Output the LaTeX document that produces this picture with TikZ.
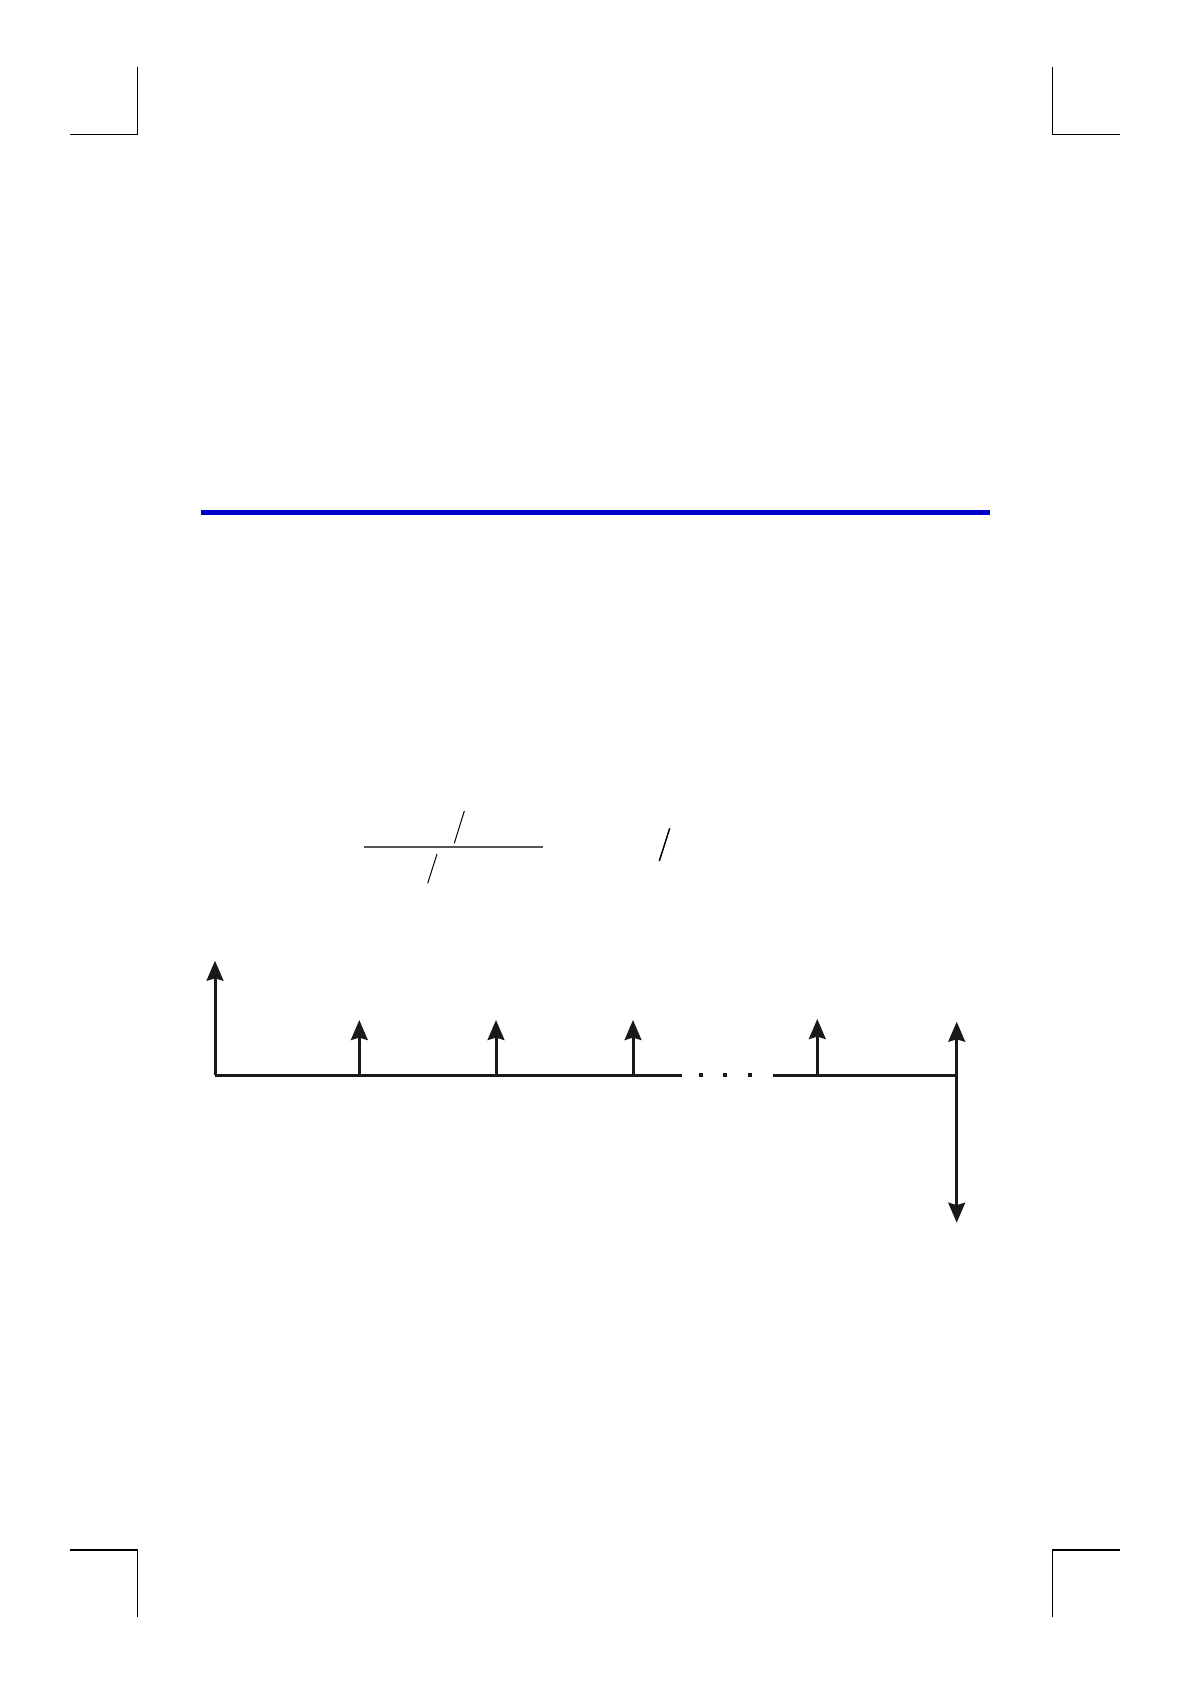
\documentclass[tikz,border=0pt]{standalone}
\usetikzlibrary{arrows.meta}
\definecolor{rulblue}{RGB}{0,0,205}
\definecolor{fracgray}{RGB}{85,85,85}
\begin{document}
\begin{tikzpicture}[x=0.5pt,y=-0.5pt,
  cropmark/.style={line width=0.55pt,black},
  flowline/.style={line width=1.5pt,black!90},
  flowarrow/.style={line width=1.5pt,black!90,-{Stealth[length=10pt,width=8.4pt,inset=1.2pt]}},
  slashline/.style={line width=0.5pt,black},
  dotsq/.style={fill=black!90}]
\useasboundingbox (0,0) rectangle (1190,1684);
% crop marks
\draw[cropmark] (137.5,67) -- (137.5,134.5) -- (70,134.5);
\draw[cropmark] (1052.5,67) -- (1052.5,134.5) -- (1120,134.5);
\draw[cropmark] (137.5,1617) -- (137.5,1550) -- (70,1550);
\draw[cropmark] (1052.5,1617) -- (1052.5,1550) -- (1120,1550);
% blue rule
\draw[line width=2.3pt,rulblue] (201,512.5) -- (990,512.5);
% fraction remnants
\draw[line width=0.85pt,fracgray] (364,846.7) -- (542.5,846.7);
\draw[slashline] (464.3,811) -- (454.3,843.3);
\draw[slashline] (437,854) -- (427.7,883.3);
\draw[line width=0.75pt] (669.7,828.3) -- (659.3,861);
% cash flow diagram
\coordinate (b0) at (215,1075.3);
\coordinate (b1) at (359.3,1075.3);
\coordinate (b2) at (496,1075.3);
\coordinate (b3) at (633,1075.3);
\coordinate (bend1) at (682,1075.3);
\coordinate (bstart2) at (773,1075.3);
\coordinate (b4) at (817.3,1075.3);
\coordinate (b5) at (956.7,1075.3);
\coordinate (t0) at (215,960.7);
\coordinate (t1) at (359.3,1020);
\coordinate (t2) at (496,1020);
\coordinate (t3) at (633,1020);
\coordinate (t4) at (817.3,1019);
\coordinate (t5) at (956.7,1021.7);
\coordinate (d5) at (956.7,1222.7);
\draw[flowline] (b0) -- (bend1);
\draw[flowline] (bstart2) -- (b5);
\draw[flowarrow] (b0) -- (t0);
\draw[flowarrow] (b1) -- (t1);
\draw[flowarrow] (b2) -- (t2);
\draw[flowarrow] (b3) -- (t3);
\draw[flowarrow] (b4) -- (t4);
\draw[flowarrow] (b5) -- (t5);
\draw[flowarrow] (b5) -- (d5);
\foreach \x in {700.7,725,750} {
  \fill[dotsq] (\x-2,1073.3) rectangle (\x+2,1077.3);
}
\end{tikzpicture}
\end{document}
